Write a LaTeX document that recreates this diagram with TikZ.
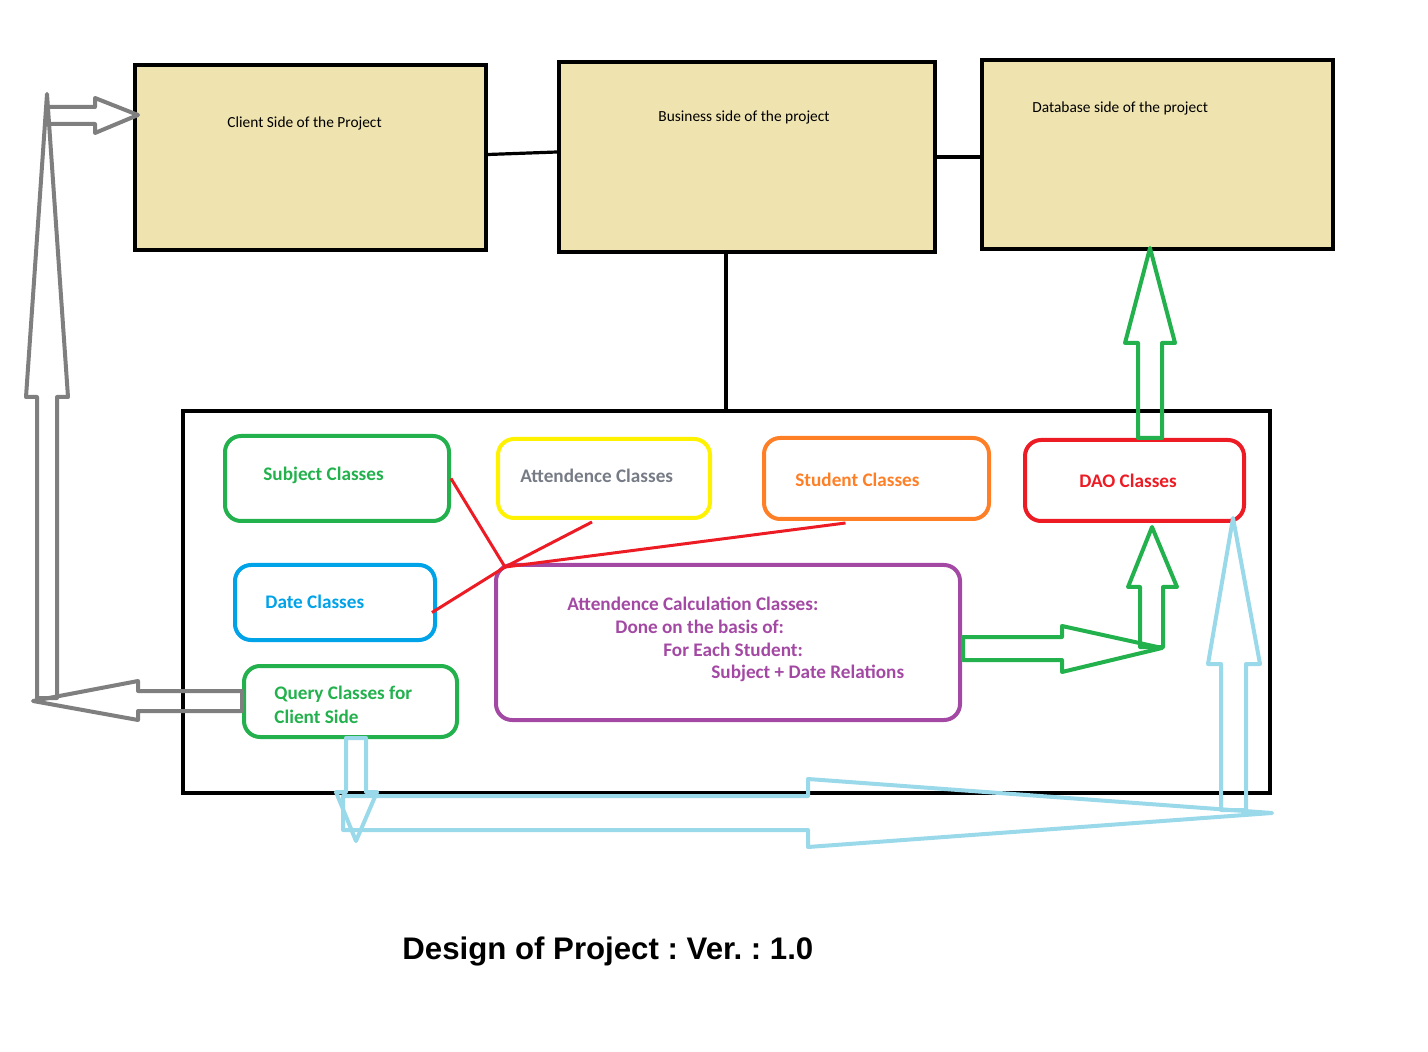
\documentclass[tikz,border=0pt]{standalone}
\usepackage{fontspec}
\setmainfont{Carlito}
\newfontfamily\titlefont{Liberation Sans}
\usetikzlibrary{calc}
\frenchspacing
\definecolor{tanfill}{HTML}{EFE4B0}
\definecolor{pgreen}{HTML}{22B14C}
\definecolor{pyellow}{HTML}{FFF200}
\definecolor{porange}{HTML}{FF7F27}
\definecolor{pred}{HTML}{ED1C24}
\definecolor{pblue}{HTML}{00A2E8}
\definecolor{ppurple}{HTML}{A349A4}
\definecolor{pgray}{HTML}{7F7F7F}
\definecolor{plblue}{HTML}{99D9EA}
\definecolor{attgray}{HTML}{767B85}
\tikzset{
  topbox/.style={draw=black, line width=2pt, fill=tanfill, inner sep=0pt},
  bigbox/.style={draw=black, line width=2pt, inner sep=0pt},
  classbox/.style={draw=#1, line width=2pt, rounded corners=8pt, inner sep=0pt},
  toplabel/.style={anchor=west, inner sep=0pt, font=\fontsize{7.7}{9}\selectfont},
  classlabel/.style={anchor=west, inner sep=0pt, text=#1, font=\fontsize{9.6}{11}\bfseries\selectfont},
  link/.style={line width=1.6pt, black},
  redlink/.style={line width=1.5pt, pred},
  hollow/.style={draw=#1, line width=2pt, line join=round}
}
\begin{document}
\begin{tikzpicture}[x=0.5pt, y=-0.5pt]
\useasboundingbox (0,0) rectangle (1428,1052);

% top boxes
\node[topbox, minimum width=175.5pt, minimum height=92.5pt] (client) at (310.5,157.5) {};
\node[topbox, minimum width=188pt, minimum height=95pt] (business) at (747,157) {};
\node[topbox, minimum width=175.5pt, minimum height=94.5pt] (database) at (1157.5,154.5) {};
\node[toplabel] (clientlbl) at (227,123) {Client Side of the Project};
\node[toplabel] (businesslbl) at (658,117) {Business side of the project};
\node[toplabel] (databaselbl) at (1032,108) {Database side of the project};

% big container
\node[bigbox, minimum width=543.5pt, minimum height=191pt] (big) at (726.5,602) {};

% connectors between top boxes
\draw[link] ($(client.east)+(0,-3)$) -- ($(business.west)+(0,-5)$);
\draw[link] (business.east) -- (business.east -| database.west);
\coordinate (bdrop) at ($(business.south)+(-21,0)$);
\draw[link] (bdrop) -- (bdrop |- big.north);

% inner class boxes
\node[classbox=pgreen, minimum width=112pt, minimum height=42.5pt] (subject) at (337,478.5) {};
\node[classbox=pyellow, minimum width=106pt, minimum height=39.5pt] (attend) at (604,478.5) {};
\node[classbox=porange, minimum width=112.5pt, minimum height=40.5pt] (student) at (876.5,478.5) {};
\node[classbox=pred, minimum width=109.5pt, minimum height=40.5pt] (dao) at (1134.5,480.5) {};
\node[classbox=pblue, minimum width=100pt, minimum height=37.5pt] (date) at (335,602.5) {};
\node[classbox=pgreen, minimum width=106.5pt, minimum height=35.5pt] (query) at (350.5,701.5) {};
\node[classbox=ppurple, minimum width=232pt, minimum height=77.5pt] (calc) at (728,642.5) {};

\node[classlabel=pgreen] (subjectlbl) at (263,475) {Subject Classes};
\node[classlabel=attgray] (attendlbl) at (520,476) {Attendence Classes};
\node[classlabel=porange] (studentlbl) at (795,480) {Student Classes};
\node[classlabel=pred] (daolbl) at (1079,481) {DAO Classes};
\node[classlabel=pblue] (datelbl) at (265,602) {Date Classes};
\node[classlabel=pgreen] (querylbl1) at (274,694) {Query Classes for};
\node[classlabel=pgreen] (querylbl2) at (274,717) {Client Side};
\node[classlabel=ppurple] (calclbl1) at (567,604) {Attendence Calculation Classes:};
\node[classlabel=ppurple] (calclbl2) at (615,627) {Done on the basis of:};
\node[classlabel=ppurple] (calclbl3) at (663,650) {For Each Student:};
\node[classlabel=ppurple] (calclbl4) at (711,673) {Subject + Date Relations};

% red relation lines
\coordinate (hub) at (505,567);
\draw[redlink] (subject.east) -- (hub);
\draw[redlink] ($(attend.south)+(-12,2)$) -- (hub);
\draw[redlink] ($(student.south)+(-31,2)$) -- (hub);
\draw[redlink] ($(date.east)+(-5,10)$) -- (hub);

% gray hollow arrows
\draw[hollow=pgray] (47,94) -- (68,397) -- (57,397) -- (57,698) -- (37,698) -- (37,397) -- (26,397) -- cycle;
\draw[hollow=pgray] (50,107) -- (95,107) -- (95,98) -- (138,115) -- (95,133) -- (95,124) -- (50,124);
\draw[hollow=pgray] (242,691) -- (138,691) -- (138,681) -- (33,701) -- (138,720) -- (138,711) -- (242,711) -- cycle;

% green hollow arrows
\draw[hollow=pgreen] (1150,248) -- (1175,343) -- (1162,343) -- (1162,438) -- (1138,438) -- (1138,343) -- (1125,343) -- cycle;
\draw[hollow=pgreen] (963,637) -- (1062,637) -- (1062,626) -- (1162,648) -- (1062,672) -- (1062,660) -- (963,660) -- cycle;
\draw[hollow=pgreen] (1152,527) -- (1177,587) -- (1163,587) -- (1163,647) -- (1140,647) -- (1140,587) -- (1128,587) -- cycle;

% light blue hollow arrows
\draw[hollow=plblue] (346,738) -- (366,738) -- (366,792) -- (377,792) -- (356,841) -- (336,792) -- (346,792) -- cycle;
\draw[hollow=plblue] (343,796) -- (808,796) -- (808,779) -- (1272,813) -- (808,847) -- (808,830) -- (343,830) -- cycle;
\draw[hollow=plblue] (1233,518) -- (1260,664) -- (1246,664) -- (1246,810) -- (1221,810) -- (1221,664) -- (1208,664) -- cycle;

% title
\node[anchor=west, inner sep=0pt, font=\titlefont\fontsize{15.6}{18}\bfseries\selectfont] (title) at (402,951) {Design of Project : Ver. : 1.0};
\end{tikzpicture}
\end{document}
